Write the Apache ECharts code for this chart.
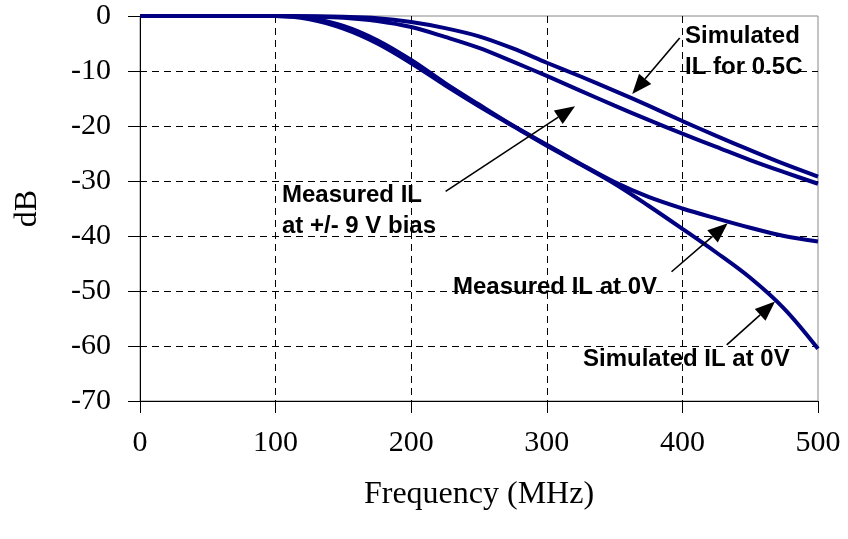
<!DOCTYPE html>
<html>
<head>
<meta charset="utf-8">
<script src="https://cdn.jsdelivr.net/npm/echarts@6/dist/echarts.min.js"></script>
<style>html,body{margin:0;padding:0;background:#fff;}#c{width:848px;height:539px;}</style>
</head>
<body>
<div id="c"></div>
<script>
// ---- data ----
const freqMHz   = [0, 25, 50, 75, 100, 125, 150, 175, 200, 225, 250, 275, 300, 325, 350, 375, 400, 425, 450, 475, 500];
const simHalfC  = [0, 0, 0, 0, 0, -0.05, -0.15, -0.4, -1.1, -2.2, -3.7, -5.9, -8.5, -11.0, -13.6, -16.3, -19.1, -21.8, -24.4, -26.9, -29.2];
const measBias  = [0, 0, 0, 0, 0, -0.1, -0.3, -0.9, -2.0, -3.8, -5.8, -8.3, -10.9, -13.6, -16.3, -18.9, -21.4, -23.8, -26.2, -28.4, -30.5];
const meas0V    = [0, 0, 0, 0, 0, -0.4, -1.8, -4.4, -8.0, -12.2, -16.1, -19.9, -23.4, -26.9, -30.2, -32.9, -35.0, -36.8, -38.5, -40.0, -41.0];
const sim0V     = [0, 0, 0, 0, 0, -0.6, -2.3, -5.0, -8.6, -12.6, -16.4, -20.0, -23.6, -27.0, -30.5, -34.5, -38.7, -43.0, -47.6, -53.2, -60.5];
const seriesNames = ['Simulated IL for 0.5C', 'Measured IL at +/- 9 V bias', 'Measured IL at 0V', 'Simulated IL at 0V'];

// annotation texts and their anchor points in data units
const noteTexts  = ['Simulated\nIL for 0.5C', 'Measured IL\nat +/- 9 V bias', 'Measured IL at 0V', 'Simulated IL at 0V'];
const noteAt     = [[402, -6.5], [104.7, -35.4], [230.8, -49.4], [326.7, -62.4]];
const arrowFrom  = [[398, -4.0], [225.4, -31.9], [392, -46.5], [432.7, -59.8]];
const arrowTo    = [[363, -14.2], [320.8, -16.4], [433.4, -37.7], [468.3, -51.9]];

const pairs = a => freqMHz.map((f, i) => [f, a[i]]);
const lineColor = '#000080';
const serif = '"Liberation Serif", "Times New Roman", serif';
const sans = '"Liberation Sans", Arial, sans-serif';

const chart = echarts.init(document.getElementById('c'), null, {renderer: 'canvas'});
const mkSeries = (name, arr) => ({
  name, type: 'line', data: pairs(arr), smooth: 0.35, showSymbol: false,
  lineStyle: {color: lineColor, width: 4}, itemStyle: {color: lineColor}, animation: false, z: 3
});
const option = {
  animation: false,
  backgroundColor: '#fff',
  grid: {left: 140, right: 30, top: 16, bottom: 138, show: true, borderColor: '#888', borderWidth: 1},
  xAxis: {
    type: 'value', min: 0, max: 500, interval: 100,
    name: 'Frequency (MHz)', nameLocation: 'middle', nameGap: 78,
    nameTextStyle: {fontFamily: serif, fontSize: 32, color: '#000'},
    axisLine: {show: true, onZero: false, lineStyle: {color: '#000', width: 1}},
    axisTick: {show: true, length: 12, lineStyle: {color: '#000'}},
    axisLabel: {fontFamily: serif, fontSize: 30, color: '#000', margin: 27},
    splitLine: {show: true, showMinLine: false, showMaxLine: false, lineStyle: {color: '#000', type: [7, 5], width: 1}}
  },
  yAxis: {
    type: 'value', min: -70, max: 0, interval: 10,
    name: 'dB', nameLocation: 'middle', nameGap: 96,
    nameTextStyle: {fontFamily: serif, fontSize: 32, color: '#000'},
    axisLine: {show: true, onZero: false, lineStyle: {color: '#000', width: 1}},
    axisTick: {show: true, length: 12, lineStyle: {color: '#000'}},
    axisLabel: {fontFamily: serif, fontSize: 30, color: '#000', margin: 29},
    splitLine: {show: true, showMinLine: false, showMaxLine: false, lineStyle: {color: '#000', type: [7, 5], width: 1}}
  },
  series: [
    mkSeries(seriesNames[0], simHalfC),
    mkSeries(seriesNames[1], measBias),
    mkSeries(seriesNames[2], meas0V),
    mkSeries(seriesNames[3], sim0V)
  ]
};
chart.setOption(option);

function drawNotes() {
  const g = [];
  noteTexts.forEach((t, i) => {
    const p = chart.convertToPixel({gridIndex: 0}, noteAt[i]);
    g.push({type: 'text', x: p[0], y: p[1], z: 10,
      style: {text: t, fill: '#000', font: 'bold 24px ' + sans, align: 'left', verticalAlign: 'middle', lineHeight: 31}});
  });
  arrowFrom.forEach((a, i) => {
    const p0 = chart.convertToPixel({gridIndex: 0}, a);
    const p1 = chart.convertToPixel({gridIndex: 0}, arrowTo[i]);
    const dx = p1[0] - p0[0], dy = p1[1] - p0[1];
    const len = Math.sqrt(dx * dx + dy * dy);
    const ux = dx / len, uy = dy / len;
    const headL = 20, headW = 8;
    const bx = p1[0] - ux * headL, by = p1[1] - uy * headL;
    g.push({type: 'line', z: 10, shape: {x1: p0[0], y1: p0[1], x2: bx, y2: by}, style: {stroke: '#000', lineWidth: 1.6}});
    g.push({type: 'polygon', z: 10, shape: {points: [[p1[0], p1[1]], [bx - uy * headW, by + ux * headW], [bx + uy * headW, by - ux * headW]]}, style: {fill: '#000'}});
  });
  chart.setOption({graphic: g});
}
drawNotes();
</script>
</body>
</html>
